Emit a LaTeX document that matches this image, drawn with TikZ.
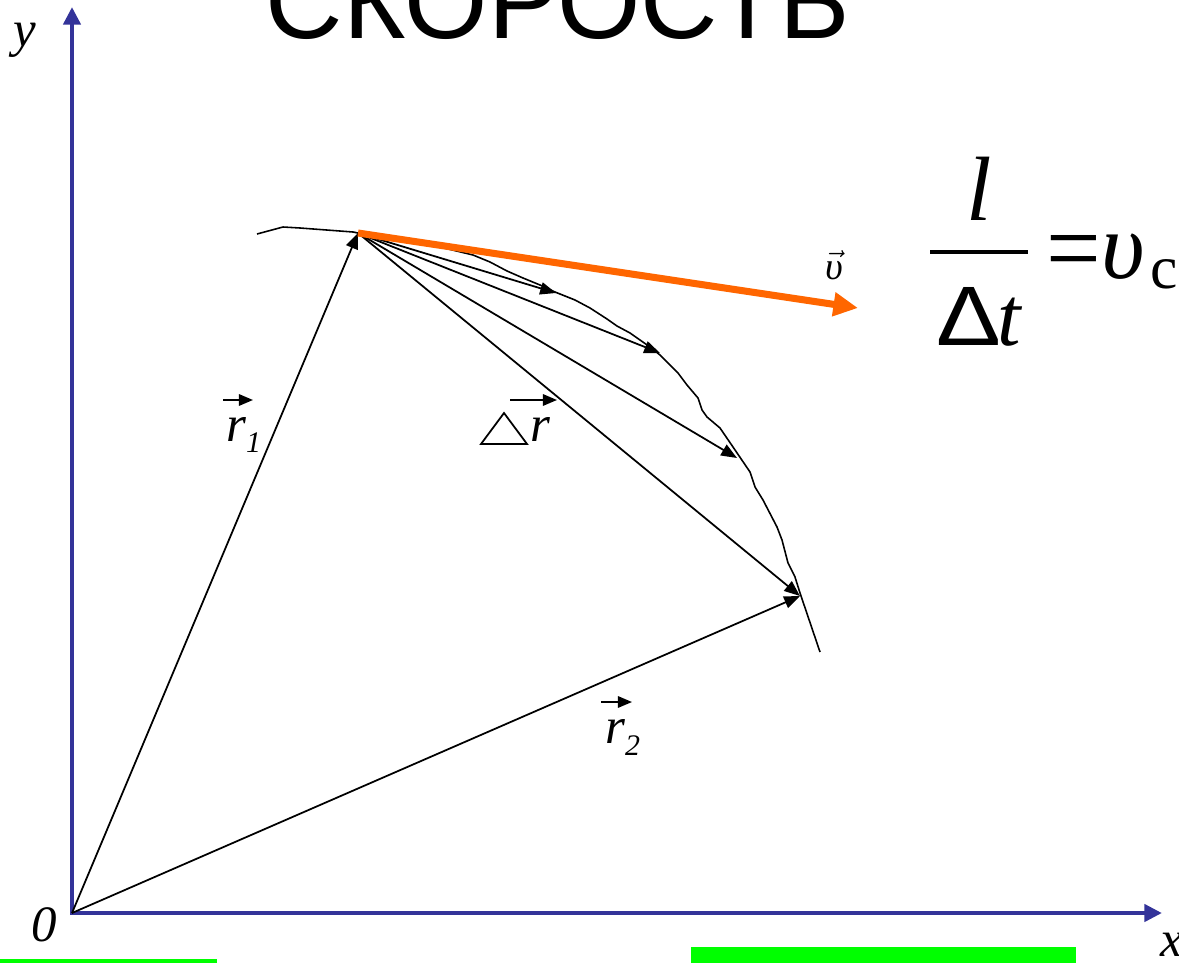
\documentclass[tikz,border=0pt]{standalone}
\usepackage{fontspec}
\setmainfont{Liberation Serif}
\newfontfamily\titlefont{Liberation Sans}
\usetikzlibrary{arrows.meta,positioning}
\definecolor{axisblue}{RGB}{51,51,153}
\definecolor{tangorange}{RGB}{255,102,0}
\definecolor{markgreen}{RGB}{0,255,0}
\begin{document}
\begin{tikzpicture}[x=0.02cm, y=-0.02cm,
  axis/.style={axisblue, line width=2.8pt, line cap=rect, -{Triangle[length=10pt,width=9.6pt]}},
  vec/.style={black, line width=1pt, -{Triangle[length=9pt,width=7pt]}},
  overarrow/.style={black, line width=1pt, -{Triangle[length=8pt,width=6.5pt]}},
  tangent/.style={tangorange, line width=4pt, -{Triangle[length=14pt,width=13pt]}},
  lbl/.style={font=\fontsize{29}{29}\selectfont\itshape, inner sep=0pt},
  sub/.style={font=\fontsize{17}{17}\selectfont\itshape, inner sep=0pt}]
  \useasboundingbox (0,0) rectangle (1179,963);
  % Title
  \node[anchor=base, inner sep=0pt] (title) at (558,39) {\titlefont\fontsize{61}{61}\selectfont СКОРОСТЬ};
  % Axes
  \coordinate (O) at (72,913);
  \coordinate (ytop) at (72,7);
  \coordinate (xend) at (1162,913);
  \draw[axis] (O) -- (ytop);
  \draw[axis] (O) -- (xend);
  \node[lbl] (ylbl) at (25,40) {y};
  \node[lbl] (olbl) at (44,925) {0};
  \node[lbl, anchor=west] (xlbl) at (1160,945) {x};
  % Trajectory
  \draw[line width=0.9pt, line join=round] (257,234) -- (283,227) -- (300,228) -- (353,232) -- (358,233)
    -- (400,240) -- (440,247) -- (473,255) -- (490,262) -- (507,271) -- (523,278) -- (540,285)
    -- (555,292) -- (575,300) -- (590,308) -- (607,319) -- (617,326) -- (630,333) -- (640,340)
    -- (650,347) -- (660,355) -- (678,373) -- (687,385) -- (698,398) -- (702,410) -- (707,417)
    -- (720,428) -- (733,447) -- (750,472) -- (755,487) -- (763,500) -- (777,527) -- (782,540)
    -- (788,563) -- (795,577) -- (800,593) -- (820,652);
  % Points on the path
  \coordinate (P1) at (358,233);
  \coordinate (P2) at (800,596);
  \coordinate (c1) at (556,293);
  \coordinate (c2) at (660,353);
  \coordinate (c3) at (737,458);
  \coordinate (vend) at (858,308);
  % Radius vectors and chords
  \draw[vec] (O) -- (P1);
  \draw[vec] (O) -- (P2);
  \foreach \c in {c1,c2,c3,P2}
    \draw[vec] (P1) -- (\c);
  % Tangent velocity
  \draw[tangent] (P1) -- (vend);
  \node[inner sep=0pt, font=\fontsize{22}{22}\selectfont] (vlbl) at (834,265) {$\vec{\hbox{\itshape υ}}$};
  % Labels
  \node[lbl, anchor=base west] (r1) at (226,441) {r\raisebox{-6.8pt}{\fontsize{17}{17}\selectfont 1}};
  \draw[overarrow] (223,400) -- (253,400);
  \node[lbl, anchor=base west] (r2) at (605,743) {r\raisebox{-7.3pt}{\fontsize{17}{17}\selectfont 2}};
  \draw[overarrow] (601,702) -- (632,702);
  \node[lbl, anchor=base west] (dr) at (530,441) {r};
  \draw[line width=1pt, line join=miter] (481,444) -- (504,413) -- (527,444) -- cycle;
  \draw[overarrow] (510,400) -- (557,400);
  % Formula
  \node[anchor=base, inner sep=0pt] (lnum) at (979,220) {\fontsize{52}{52}\selectfont\itshape l};
  \draw[line width=2.2pt] (930,252) -- (1028,252);
  \node[anchor=base west, inner sep=0pt] (dt) at (936,345) {\fontsize{48}{48}\selectfont\titlefont\scalebox{1.15}[1]{Δ}\kern-2pt\rmfamily\itshape t};
  \node[inner sep=0pt] (eq) at (1074,259) {\fontsize{46}{46}\selectfont\scalebox{1.2}[1.3]{=}};
  \node[anchor=base west, inner sep=0pt] (ups) at (1101,278) {\fontsize{54}{54}\selectfont\itshape υ};
  \node[anchor=base west, inner sep=0pt] (ups sub) at (1150,288) {\fontsize{35}{35}\selectfont с};
  % Green marks
  \fill[markgreen] (0,959) rectangle (217,963);
  \fill[markgreen] (691,947) rectangle (1076,963);
\end{tikzpicture}
\end{document}
